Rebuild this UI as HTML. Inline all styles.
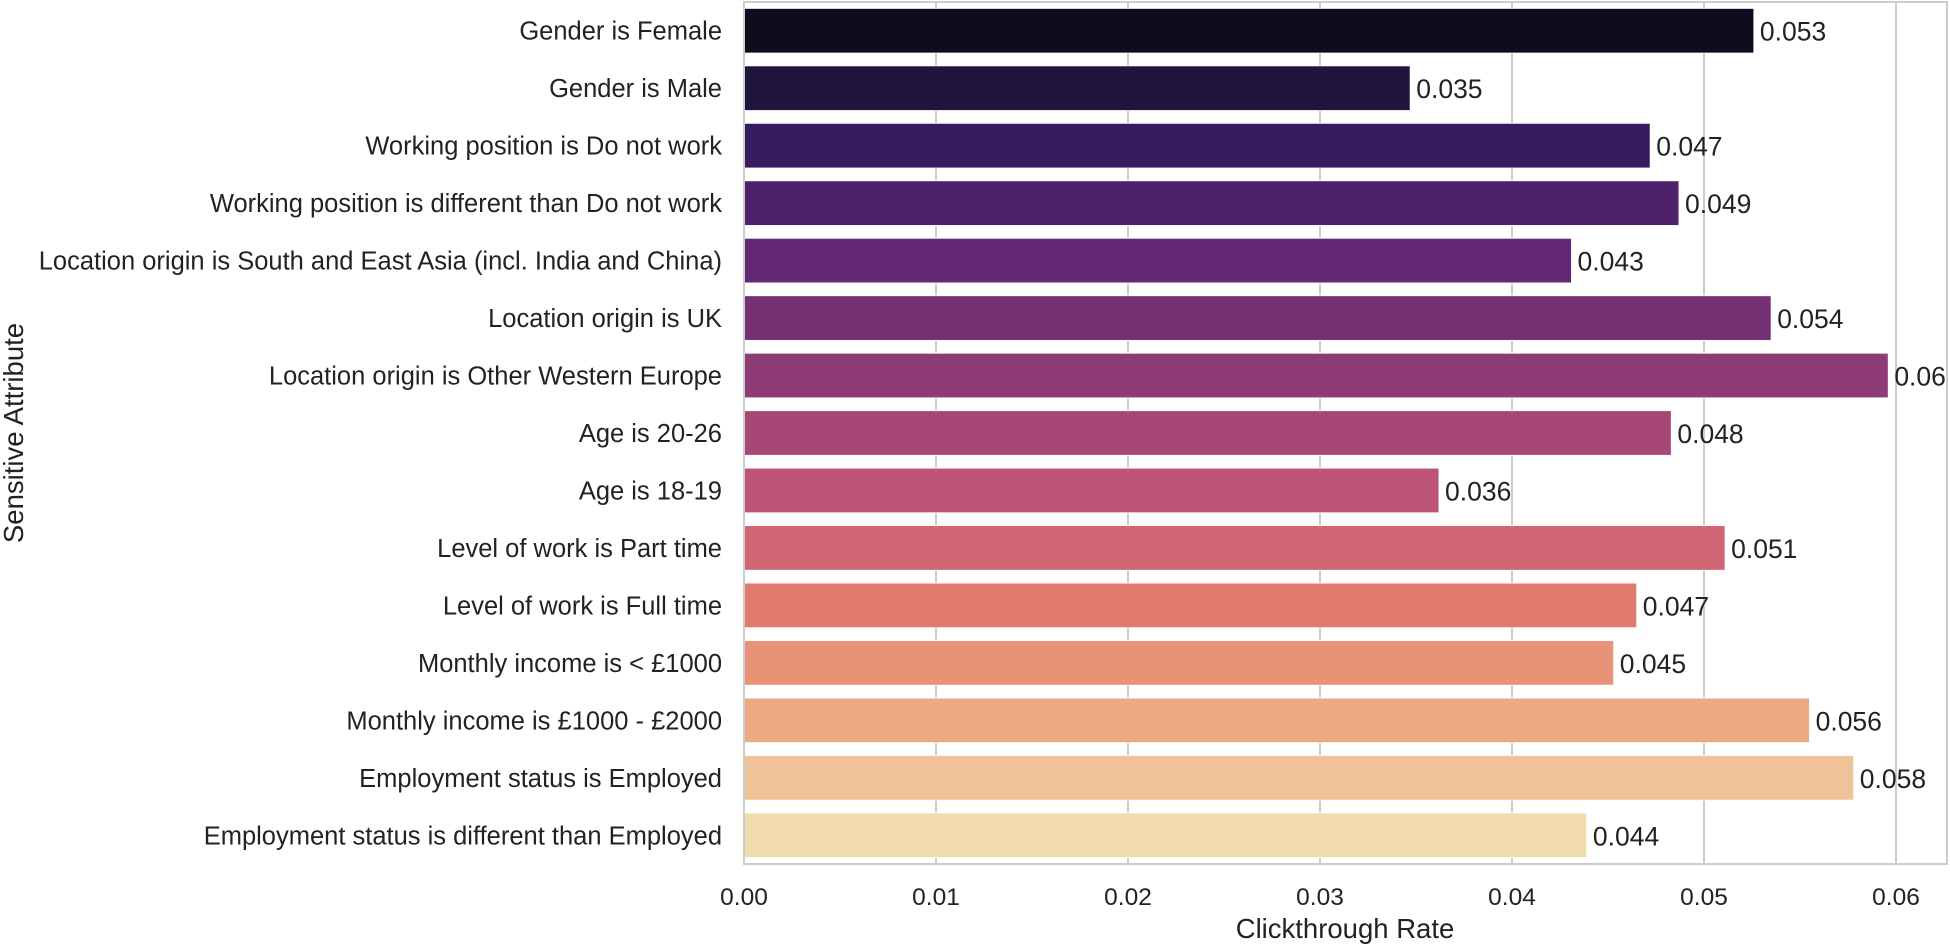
<!DOCTYPE html>
<html><head><meta charset="utf-8"><style>
html,body{margin:0;padding:0;background:#fff;}
svg{display:block;font-family:"Liberation Sans",Arial,sans-serif;}
</style></head><body>
<svg id="chart" width="1950" height="945" viewBox="0 0 1950 945">
<g id="grid"></g>
<g id="bars"></g>
<g id="labels"></g>
<g id="vals"></g>
<g id="ticks"></g>
<rect x="744" y="2" width="1203" height="862" fill="none" stroke="#cccccc" stroke-width="2"/>
<text x="1345" y="938" font-size="27.5" text-anchor="middle" fill="#222">Clickthrough Rate</text>
<text x="0" y="0" font-size="27.5" text-anchor="middle" fill="#222" transform="translate(23,433) rotate(-90)">Sensitive Attribute</text>
</svg>
<script>
const categories = ["Gender is Female","Gender is Male","Working position is Do not work","Working position is different than Do not work","Location origin is South and East Asia (incl. India and China)","Location origin is UK","Location origin is Other Western Europe","Age is 20-26","Age is 18-19","Level of work is Part time","Level of work is Full time","Monthly income is < £1000","Monthly income is £1000 - £2000","Employment status is Employed","Employment status is different than Employed"];
const values = [0.0526,0.0347,0.0472,0.0487,0.0431,0.0535,0.0596,0.0483,0.0362,0.0511,0.0465,0.0453,0.0555,0.0578,0.0439];
const valueLabels = ["0.053","0.035","0.047","0.049","0.043","0.054","0.06","0.048","0.036","0.051","0.047","0.045","0.056","0.058","0.044"];
const xTicks = [0,0.01,0.02,0.03,0.04,0.05,0.06];
const xTickLabels = ["0.00","0.01","0.02","0.03","0.04","0.05","0.06"];

const NS="http://www.w3.org/2000/svg";
const X0=744, PXU=19200, TOP=2, BOT=864;
const x = v => X0 + v*PXU;
const pitch = (BOT-TOP)/categories.length;
const yc = i => TOP + pitch*(i+0.5);
const barH = pitch*0.78;

const magma=["#000004","#140e36","#3b0f70","#641a80","#8c2981","#b73779","#de4968","#f7705c","#fe9f6d","#fecf92","#fcfdbf"];
function hex2rgb(h){return [1,3,5].map(i=>parseInt(h.substr(i,2),16)/255);}
function cmap(t){const p=t*10,i=Math.min(9,Math.floor(p)),f=p-i;const a=hex2rgb(magma[i]),b=hex2rgb(magma[i+1]);return a.map((v,k)=>v+(b[k]-v)*f);}
function desat([r,g,b],s){const mx=Math.max(r,g,b),mn=Math.min(r,g,b),l=(mx+mn)/2;let h=0,S=0;
 if(mx!==mn){const d=mx-mn;S=l>0.5?d/(2-mx-mn):d/(mx+mn);
  if(mx===r)h=((g-b)/d+(g<b?6:0));else if(mx===g)h=(b-r)/d+2;else h=(r-g)/d+4;h/=6;}
 S*=s;
 const q=l<0.5?l*(1+S):l+S-l*S,p=2*l-q;
 const f=t=>{if(t<0)t+=1;if(t>1)t-=1;if(t<1/6)return p+(q-p)*6*t;if(t<1/2)return q;if(t<2/3)return p+(q-p)*(2/3-t)*6;return p;};
 const rgb=S===0?[l,l,l]:[f(h+1/3),f(h),f(h-1/3)];
 return "rgb("+rgb.map(v=>Math.round(v*255)).join(",")+")";}

const grid=document.getElementById("grid"),bars=document.getElementById("bars"),labels=document.getElementById("labels"),vals=document.getElementById("vals"),ticks=document.getElementById("ticks");
xTicks.forEach((t,i)=>{
 const l=document.createElementNS(NS,"line");
 l.setAttribute("x1",x(t));l.setAttribute("x2",x(t));l.setAttribute("y1",TOP);l.setAttribute("y2",BOT);
 l.setAttribute("stroke","#cccccc");l.setAttribute("stroke-width","2");
 
 
 grid.appendChild(l);
 const tx=document.createElementNS(NS,"text");
 tx.setAttribute("x",x(t));tx.setAttribute("y",905);tx.setAttribute("font-size","24.5");tx.setAttribute("text-anchor","middle");tx.setAttribute("fill","#222");
 tx.textContent=xTickLabels[i];
 
 
 ticks.appendChild(tx);
});
const n=categories.length;
categories.forEach((c,i)=>{
 const col=desat(cmap((i+1)/(n+1)),0.75);
 const r=document.createElementNS(NS,"rect");
 r.setAttribute("x",x(0));r.setAttribute("y",yc(i)-barH/2);r.setAttribute("width",x(values[i])-x(0));r.setAttribute("height",barH);
 r.setAttribute("fill",col);r.setAttribute("stroke","#fff");r.setAttribute("stroke-width","1");
 
 
 bars.appendChild(r);
 const t=document.createElementNS(NS,"text");
 t.setAttribute("x",722);t.setAttribute("y",yc(i)+9);t.setAttribute("font-size","25.5");t.setAttribute("text-anchor","end");t.setAttribute("fill","#222");
 t.textContent=c;
 
 
 labels.appendChild(t);
 const v=document.createElementNS(NS,"text");
 v.setAttribute("x",x(values[i])+6);v.setAttribute("y",yc(i)+10);v.setAttribute("font-size","26.5");v.setAttribute("fill","#222");
 v.textContent=valueLabels[i];
 
 
 vals.appendChild(v);
});
</script>
</body></html>
